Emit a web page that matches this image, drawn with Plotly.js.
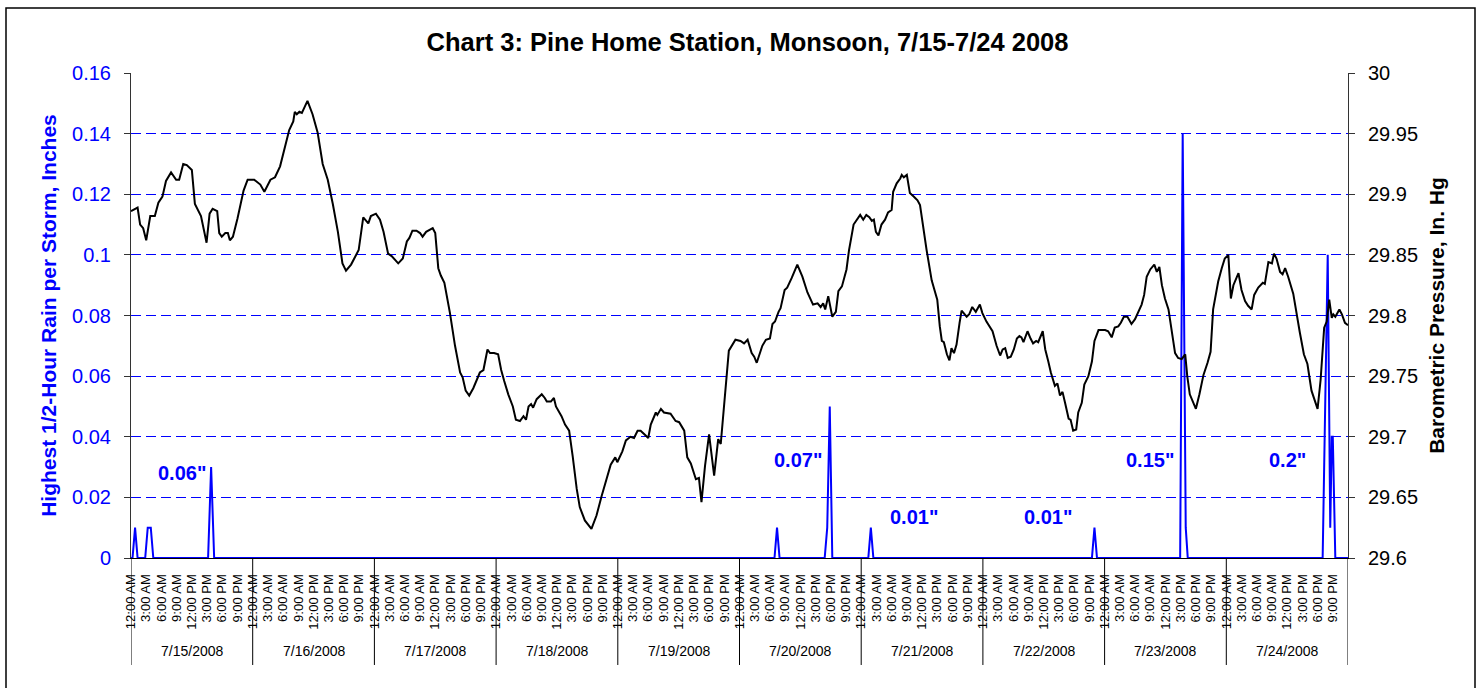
<!DOCTYPE html>
<html>
<head>
<meta charset="utf-8">
<script src="https://cdn.plot.ly/plotly-3.0.1.min.js"></script>
<style>
  html, body { margin: 0; padding: 0; background: #ffffff; }
  #chart { width: 1479px; height: 688px; }
</style>
</head>
<body>
<div id="chart"></div>
<script>
// ---------------- DATA ----------------
const dates = ['7/15/2008','7/16/2008','7/17/2008','7/18/2008','7/19/2008',
               '7/20/2008','7/21/2008','7/22/2008','7/23/2008','7/24/2008'];
const hourLabels = ['12:00 AM','3:00 AM','6:00 AM','9:00 AM','12:00 PM','3:00 PM','6:00 PM','9:00 PM'];

// Highest 1/2-hour rain per storm (inches), hours since 7/15 00:00
const rainHours = [0, 0.3, 0.8, 1.3, 2.8, 3.3, 3.9, 4.4, 15.2, 15.8, 16.4,
                   126.9, 127.4, 127.9, 136.8, 137.3, 137.8, 138.3,
                   145.4, 145.9, 146.4, 189.5, 190.0, 190.5,
                   206.9, 207.4, 208.0, 208.4,
                   235.0, 236.0, 236.5, 236.8, 237.0, 237.5, 240];
const rainValues = [0, 0, 0.01, 0, 0, 0.01, 0.01, 0, 0, 0.03, 0,
                    0, 0.01, 0, 0, 0.01, 0.05, 0,
                    0, 0.01, 0, 0, 0.01, 0,
                    0, 0.14, 0.01, 0,
                    0, 0.10, 0.01, 0.04, 0.04, 0, 0];

// Storm totals shown as labels
const stormTotals = ['0.06"', '0.07"', '0.01"', '0.01"', '0.15"', '0.2"'];

// Barometric pressure (in. Hg), hours since 7/15 00:00
const pressureHours = [
  0.0,1.3,1.8,2.4,3.0,3.8,4.7,5.4,6.2,6.9,7.9,8.9,9.5,10.3,11.0,12.0,12.6,13.8,14.9,15.5,
  16.1,17.0,17.4,17.9,18.6,19.1,19.5,20.1,21.0,22.2,23.0,24.3,25.5,26.3,27.5,28.4,29.4,29.9,30.6,31.2,
  32.0,32.3,32.7,33.2,33.7,34.8,35.8,36.8,37.8,38.8,39.8,40.8,41.7,42.4,43.4,44.0,44.9,45.8,46.8,47.3,
  48.3,49.1,49.8,50.7,51.4,52.7,53.6,54.4,54.9,55.5,56.3,57.0,57.5,58.2,59.5,60.0,60.6,61.1,61.8,62.9,
  63.9,64.9,65.4,66.0,66.7,67.5,68.0,68.8,69.5,70.3,70.8,71.6,72.4,73.0,73.6,74.4,75.3,75.9,76.7,77.4,
  77.9,78.4,78.9,79.3,80.0,81.0,81.6,82.0,82.8,83.4,83.8,84.9,85.6,86.4,87.1,87.9,88.5,89.5,90.8,91.8,
  92.8,93.8,94.6,95.5,95.9,96.9,97.6,98.5,99.2,99.9,100.5,101.5,102.0,102.5,103.5,103.8,104.5,105.1,106.4,107.4,
  108.1,109.1,109.7,110.4,111.4,112.0,112.5,113.2,114.0,115.0,115.8,116.3,117.1,117.9,119.2,120.2,120.9,121.6,122.4,122.9,
  123.4,124.5,125.2,126.0,126.5,127.0,127.7,128.1,128.9,129.4,130.3,131.4,132.4,133.4,134.5,135.4,136.0,136.5,136.9,137.5,
  138.3,139.0,139.5,140.2,141.1,141.6,142.5,143.8,144.4,145.0,145.6,146.1,146.5,146.9,147.4,148.0,148.7,149.3,150.0,150.3,
  151.0,151.7,152.0,152.4,153.0,153.6,154.4,155.1,155.6,156.3,156.9,157.9,159.0,159.5,159.9,160.3,160.9,161.4,161.8,162.3,
  162.8,163.4,163.8,164.8,165.3,165.9,166.6,167.4,167.9,168.7,169.9,170.7,171.4,171.9,172.4,172.9,173.5,174.1,174.7,175.2,
  175.6,176.0,176.8,177.4,177.9,178.5,178.9,179.8,180.3,180.9,181.4,182.2,182.7,183.2,183.7,184.2,184.9,185.3,185.8,186.4,
  186.8,187.5,188.0,188.8,189.5,190.0,190.8,191.4,192.1,192.7,193.4,194.0,194.7,195.2,195.8,196.5,197.3,198.0,198.7,199.3,
  199.8,200.3,201.0,201.8,202.3,202.8,203.3,203.9,204.6,205.0,205.6,205.9,206.5,207.2,207.9,208.3,208.8,209.5,210.0,210.7,
  211.5,212.3,212.9,213.4,214.4,215.1,215.7,216.4,216.9,217.4,218.0,218.4,219.0,219.7,220.3,221.0,221.5,222.3,223.2,223.6,
  224.3,225.0,225.4,225.9,226.6,227.1,227.6,228.2,229.2,229.9,230.5,231.3,232.0,232.8,233.5,234.0,234.6,235.3,235.8,236.3,
  236.8,237.1,237.5,238.3,238.8,239.4,240.0
];
const pressureValues = [
  29.886,29.889,29.875,29.872,29.862,29.882,29.882,29.893,29.898,29.911,29.918,29.912,29.912,29.925,29.924,29.920,29.892,29.882,29.860,29.884,
  29.888,29.886,29.868,29.865,29.868,29.868,29.862,29.865,29.880,29.903,29.912,29.912,29.908,29.902,29.912,29.914,29.923,29.932,29.943,29.953,
  29.960,29.968,29.966,29.968,29.967,29.977,29.966,29.951,29.925,29.912,29.892,29.869,29.843,29.837,29.842,29.847,29.854,29.881,29.876,29.882,
  29.884,29.879,29.869,29.851,29.849,29.843,29.847,29.861,29.864,29.870,29.870,29.868,29.865,29.869,29.872,29.868,29.839,29.833,29.827,29.802,
  29.775,29.753,29.749,29.738,29.734,29.740,29.745,29.753,29.755,29.772,29.769,29.769,29.768,29.755,29.746,29.735,29.725,29.714,29.713,29.717,
  29.714,29.725,29.727,29.724,29.731,29.735,29.732,29.729,29.729,29.732,29.725,29.717,29.710,29.705,29.684,29.657,29.642,29.631,29.624,29.635,
  29.651,29.666,29.677,29.683,29.679,29.688,29.697,29.700,29.699,29.705,29.705,29.701,29.699,29.710,29.720,29.718,29.723,29.720,29.719,29.713,
  29.712,29.705,29.683,29.678,29.665,29.666,29.646,29.676,29.702,29.668,29.698,29.694,29.734,29.771,29.780,29.779,29.777,29.780,29.769,29.766,
  29.761,29.775,29.780,29.781,29.793,29.795,29.803,29.806,29.821,29.823,29.831,29.842,29.832,29.819,29.809,29.810,29.807,29.810,29.805,29.816,
  29.799,29.803,29.820,29.824,29.838,29.854,29.875,29.883,29.879,29.883,29.881,29.878,29.879,29.869,29.866,29.875,29.879,29.885,29.887,29.902,
  29.909,29.913,29.916,29.914,29.916,29.901,29.898,29.895,29.891,29.870,29.854,29.829,29.813,29.791,29.779,29.778,29.768,29.763,29.773,29.769,
  29.776,29.794,29.804,29.799,29.801,29.807,29.803,29.809,29.802,29.795,29.787,29.775,29.767,29.772,29.773,29.765,29.766,29.772,29.781,29.783,
  29.782,29.778,29.787,29.781,29.777,29.779,29.778,29.787,29.772,29.762,29.753,29.742,29.744,29.734,29.737,29.728,29.715,29.714,29.705,29.706,
  29.720,29.728,29.743,29.750,29.762,29.779,29.788,29.788,29.788,29.787,29.782,29.790,29.791,29.794,29.799,29.799,29.793,29.797,29.803,29.809,
  29.817,29.832,29.838,29.842,29.836,29.840,29.825,29.814,29.805,29.794,29.780,29.769,29.765,29.764,29.768,29.750,29.735,29.727,29.723,29.735,
  29.751,29.761,29.770,29.805,29.828,29.839,29.847,29.850,29.814,29.825,29.831,29.835,29.821,29.812,29.808,29.805,29.817,29.823,29.827,29.826,
  29.844,29.843,29.851,29.847,29.836,29.834,29.839,29.832,29.818,29.799,29.786,29.768,29.760,29.738,29.728,29.723,29.747,29.790,29.795,29.813,
  29.798,29.801,29.799,29.805,29.801,29.794,29.792
];

// ---------------- LAYOUT CONFIG ----------------
const FONT = 'Arial, "Liberation Sans", sans-serif';
const BLUE = '#0000FF';
const hoursPerDay = 24;
const tickStep = 3;

// tick values / labels for the hour axis
const tickVals = [], tickText = [];
dates.forEach((d, i) => {
  hourLabels.forEach((lab, j) => {
    tickVals.push(i * hoursPerDay + j * tickStep);
    tickText.push(lab);
  });
});

// label placement (hours, rain units)
const stormLabelPos = [[10.06, 0.028], [131.5, 0.0323], [154.5, 0.0136],
                       [180.9, 0.0136], [200.9, 0.0323], [228.0, 0.0323]];

const shapes = [];
// day separators below the axis
for (let i = 0; i <= dates.length; i++) {
  shapes.push({type: 'line', xref: 'x', yref: 'paper', x0: i * hoursPerDay, x1: i * hoursPerDay,
               y0: 0, y1: -0.2206, line: {color: '#000000', width: 1}});
}
// outer chart border
shapes.push({type: 'rect', xref: 'paper', yref: 'paper',
             x0: (6 - 131) / 1217, x1: (1475 - 131) / 1217,
             y0: (558 - 700) / 485, y1: 1 + (73 - 8) / 485,
             line: {color: '#000000', width: 1.5}, fillcolor: 'rgba(0,0,0,0)'});

const annotations = [];
stormTotals.forEach((t, i) => {
  annotations.push({x: stormLabelPos[i][0], y: stormLabelPos[i][1], xref: 'x', yref: 'y',
                    text: t, showarrow: false, xanchor: 'center', yanchor: 'middle',
                    font: {family: FONT, size: 20, color: BLUE, weight: 'bold'}});
});
dates.forEach((d, i) => {
  annotations.push({x: i * hoursPerDay + hoursPerDay / 2, y: -0.192, xref: 'x', yref: 'paper',
                    text: d, showarrow: false, xanchor: 'center', yanchor: 'middle',
                    font: {family: FONT, size: 14, color: '#000000'}});
});

const traces = [
  {x: rainHours, y: rainValues, type: 'scatter', mode: 'lines', yaxis: 'y',
   name: 'Highest 1/2-Hour Rain', line: {color: BLUE, width: 2}, hoverinfo: 'x+y'},
  {x: pressureHours, y: pressureValues, type: 'scatter', mode: 'lines', yaxis: 'y2',
   name: 'Barometric Pressure', line: {color: '#000000', width: 2}, hoverinfo: 'x+y'}
];

const layout = {
  width: 1479, height: 688,
  margin: {l: 131, r: 131, t: 73, b: 130, pad: 0},
  paper_bgcolor: '#ffffff', plot_bgcolor: '#ffffff',
  showlegend: false,
  font: {family: FONT, color: '#000000'},
  title: {text: 'Chart 3: Pine Home Station, Monsoon, 7/15-7/24 2008',
          font: {family: FONT, size: 25.5, color: '#000000', weight: 'bold'},
          xref: 'paper', x: 0.5066, xanchor: 'center',
          yref: 'container', y: 1 - 42 / 688, yanchor: 'middle'},
  xaxis: {range: [0, 240], showgrid: false, zeroline: false,
          showline: true, linecolor: '#000000', linewidth: 1, layer: 'below traces',
          tickmode: 'array', tickvals: tickVals, ticktext: tickText, tickangle: -90,
          ticks: '', ticklabelstandoff: 10,
          tickfont: {family: FONT, size: 13, color: '#000000'}},
  yaxis: {range: [0, 0.16], dtick: 0.02, tick0: 0,
          showgrid: true, gridcolor: BLUE, griddash: '10px,5px', gridwidth: 1,
          zeroline: false, showline: true, linecolor: '#333333', linewidth: 1,
          ticks: 'outside', ticklen: 6, tickcolor: '#333333', ticklabelstandoff: 9,
          tickfont: {family: FONT, size: 20, color: BLUE},
          title: {text: 'Highest 1/2-Hour Rain per Storm, Inches', standoff: 9,
                  font: {family: FONT, size: 21, color: BLUE, weight: 'bold'}}},
  yaxis2: {range: [29.6, 30], dtick: 0.05, tick0: 29.6, overlaying: 'y', side: 'right',
           showgrid: false, zeroline: false, showline: true, linecolor: '#333333', linewidth: 1,
           ticks: 'outside', ticklen: 6, tickcolor: '#333333', ticklabelstandoff: 9,
           tickfont: {family: FONT, size: 20, color: '#000000'},
           title: {text: 'Barometric Pressure, In. Hg', standoff: 12,
                   font: {family: FONT, size: 21, color: '#000000', weight: 'bold'}}},
  yaxis3: {range: [0, 0.16], dtick: 0.02, tick0: 0, overlaying: 'y', side: 'left', anchor: 'x',
           showgrid: false, zeroline: false, showline: false, showticklabels: false,
           ticks: 'inside', ticklen: 6, tickcolor: '#333333'},
  yaxis4: {range: [29.6, 30], dtick: 0.05, tick0: 29.6, overlaying: 'y', side: 'right', anchor: 'x',
           showgrid: false, zeroline: false, showline: false, showticklabels: false,
           ticks: 'inside', ticklen: 6, tickcolor: '#333333'},
  shapes: shapes,
  annotations: annotations
};

Plotly.newPlot('chart', traces, layout, {displayModeBar: false, staticPlot: true});
</script>
</body>
</html>
